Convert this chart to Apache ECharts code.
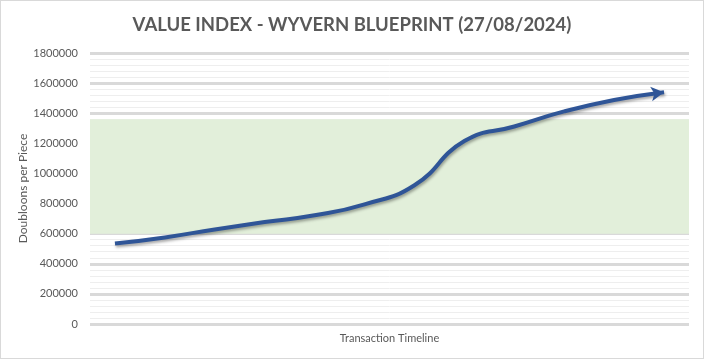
<!DOCTYPE html>
<html><head><meta charset="utf-8">
<script src="https://cdn.jsdelivr.net/npm/echarts@6/dist/echarts.min.js"></script>
<style>html,body{margin:0;padding:0;background:#fff;}#c{width:704px;height:359px;box-sizing:border-box;border:1px solid #d9d9d9;}</style>
</head><body><div id="c"></div>
<script>
const categories = ['1','2','3','4','5','6','7','8','9','10','11','12'];
const values = [534000, 575000, 628000, 677000, 722000, 795000, 922000, 1215000, 1312000, 1412000, 1488000, 1540000];
const bandLow = 600000;
const bandHigh = 1360000;
const yTicks = {min: 0, max: 1800000, interval: 200000};

const data = values.map((v, i) => i === values.length - 1
  ? {value: v, symbol: 'arrow', symbolSize: [11, 13], symbolRotate: -82, itemStyle: {color: '#2f5597'}}
  : {value: v, symbol: 'none'});

const chart = echarts.init(document.getElementById('c'));
chart.setOption({
  animation: false,
  title: {text: 'VALUE INDEX - WYVERN BLUEPRINT (27/08/2024)', left: 'center', top: 10,
    textStyle: {fontFamily: 'Lato', fontWeight: 'bold', fontSize: 18.5, color: '#595959'}},
  grid: {left: 89, right: 14, top: 52, bottom: 34},
  xAxis: {type: 'category', data: categories, boundaryGap: true,
    axisLine: {show: false}, axisTick: {show: false}, axisLabel: {show: false},
    name: 'Transaction Timeline', nameLocation: 'middle', nameGap: 9, nameMoveOverlap: false,
    nameTextStyle: {fontFamily: 'Lato', fontSize: 11, color: '#595959'}},
  yAxis: {type: 'value', min: yTicks.min, max: yTicks.max, interval: yTicks.interval,
    axisLine: {show: false}, axisTick: {show: false},
    axisLabel: {fontFamily: 'Lato', fontSize: 11, color: '#595959', margin: 12, formatter: v => String(v)},
    splitLine: {lineStyle: {color: '#d9d9d9', width: 3}},
    minorTick: {show: false, splitNumber: 5},
    minorSplitLine: {show: true, lineStyle: {color: '#eeeeee', width: 1}},
    name: 'Doubloons per Piece', nameLocation: 'middle', nameGap: 61, nameMoveOverlap: false,
    nameTextStyle: {fontFamily: 'Lato', fontSize: 12, color: '#595959', align: 'center', verticalAlign: 'bottom'}},
  series: [{
    type: 'line', data: data, smooth: 0.5, showSymbol: true,
    lineStyle: {color: '#2f5597', width: 4, shadowColor: 'rgba(0,0,0,0.35)', shadowBlur: 3, shadowOffsetX: 1, shadowOffsetY: 2},
    itemStyle: {color: '#2f5597'},
    markArea: {silent: true, itemStyle: {color: '#e2efda'},
      data: [[{yAxis: bandLow}, {yAxis: bandHigh}]]},
    z: 3
  }]
});
</script></body></html>
